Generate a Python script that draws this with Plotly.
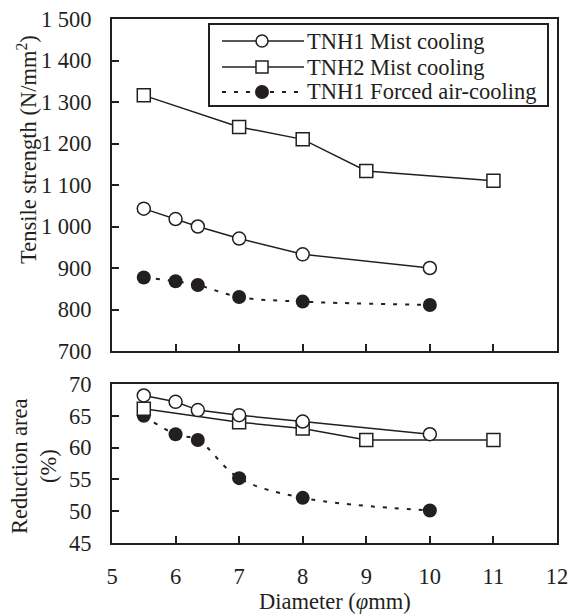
import plotly.graph_objects as go
from plotly.subplots import make_subplots

# ---- data ----
diam_tnh1 = [5.5, 6.0, 6.35, 7.0, 8.0, 10.0]
diam_tnh2 = [5.5, 7.0, 8.0, 9.0, 11.0]
ts_tnh1_mist = [1043, 1018, 1000, 971, 933, 900]
ts_tnh2_mist = [1316, 1240, 1210, 1134, 1110]
ts_tnh1_air = [877, 868, 859, 830, 819, 811]
ra_tnh1_mist = [68.2, 67.2, 65.9, 65.1, 64.1, 62.1]
ra_tnh2_mist = [66.1, 64.0, 63.0, 61.2, 61.2]
ra_tnh1_air = [65.0, 62.1, 61.2, 55.2, 52.1, 50.1]

series_names = ["TNH1 Mist cooling", "TNH2 Mist cooling", "TNH1 Forced air-cooling"]
ts_ticks = [700, 800, 900, 1000, 1100, 1200, 1300, 1400, 1500]
ts_ticktext = ["700", "800", "900", "1 000", "1 100", "1 200", "1 300", "1 400", "1 500"]
ra_ticks = [45, 50, 55, 60, 65, 70]
x_ticks = [5, 6, 7, 8, 9, 10, 11, 12]

INK = "#231f20"
FONT = "Liberation Serif, Times New Roman, serif"
FS = 22.5

# page offset (browser body margin)
OFF = 8
W, H = 579 - OFF, 614 - OFF
L_pg, R_pg, T_pg, B_pg = 112, 557, 19, 543
L, R, T, B = L_pg - OFF, R_pg - OFF, T_pg - OFF, B_pg - OFF
plot_h = B - T

def ypaper(py_page):
    return (B - (py_page - OFF)) / plot_h

def xpaper(px_page):
    return ((px_page - OFF) - L) / (R - L)

fig = make_subplots(rows=2, cols=1, shared_xaxes=False, vertical_spacing=0.0)

line_solid = dict(color=INK, width=1.5)
line_dot = dict(color=INK, width=2, dash="4px,8px", shape="spline", smoothing=1.0)
m_open_circle = dict(symbol="circle", size=13, color="white", line=dict(color=INK, width=1.5))
m_open_square = dict(symbol="square", size=13, color="white", line=dict(color=INK, width=1.5))
m_filled = dict(symbol="circle", size=14, color=INK, line=dict(color=INK, width=0))

for row, (a, b, c) in enumerate([(ts_tnh1_mist, ts_tnh2_mist, ts_tnh1_air),
                                  (ra_tnh1_mist, ra_tnh2_mist, ra_tnh1_air)], start=1):
    fig.add_trace(go.Scatter(x=diam_tnh1, y=c, mode="lines+markers", line=line_dot,
                             marker=m_filled, name=series_names[2], showlegend=False), row=row, col=1)
    fig.add_trace(go.Scatter(x=diam_tnh2, y=b, mode="lines+markers", line=line_solid,
                             marker=m_open_square, name=series_names[1], showlegend=False), row=row, col=1)
    fig.add_trace(go.Scatter(x=diam_tnh1, y=a, mode="lines+markers", line=line_solid,
                             marker=m_open_circle, name=series_names[0], showlegend=False), row=row, col=1)

axis_common = dict(showline=True, linecolor=INK, linewidth=2, mirror=True,
                   ticks="inside", ticklen=7, tickwidth=1.5, tickcolor=INK,
                   showgrid=False, zeroline=False, automargin=False,
                   ticklabeloverflow="allow",
                   tickfont=dict(family=FONT, size=FS, color=INK))

fig.update_xaxes(range=[5, 12], tickvals=x_ticks, ticklabelstandoff=12, **axis_common)
fig.update_xaxes(showticklabels=False, row=1, col=1)
fig.update_yaxes(range=[700, 1500], tickvals=ts_ticks, ticktext=ts_ticktext, ticklabelstandoff=14,
                 row=1, col=1, **axis_common)
fig.update_yaxes(range=[45, 70], tickvals=ra_ticks, ticklabelstandoff=14,
                 row=2, col=1, **axis_common)

fig.layout.yaxis.domain = [ypaper(351), 1.0]
fig.layout.yaxis2.domain = [0.0, ypaper(384)]

title_font = dict(family=FONT, size=FS, color=INK)
# axis titles as annotations
fig.add_annotation(text="Tensile strength (N/mm<sup>2</sup>)", xref="paper", yref="paper",
                   x=xpaper(27), y=ypaper(150), textangle=-90, showarrow=False,
                   xanchor="center", yanchor="middle", font=title_font)
fig.add_annotation(text="Reduction area<br>(%)", xref="paper", yref="paper",
                   x=xpaper(34), y=ypaper(466), textangle=-90, showarrow=False,
                   xanchor="center", yanchor="middle", font=title_font)
fig.add_annotation(text="Diameter (<i>φ</i>mm)", xref="paper", yref="paper",
                   x=xpaper(335), y=ypaper(601), showarrow=False,
                   xanchor="center", yanchor="middle", font=title_font)

# ---- custom legend ----
fig.add_shape(type="rect", xref="paper", yref="paper",
              x0=xpaper(209), x1=xpaper(548), y0=ypaper(106), y1=ypaper(24),
              line=dict(color=INK, width=2), fillcolor="white", layer="above")
rows_py = [41, 67, 92]
kinds = ["circle", "square", "filled"]
for name, py, kind in zip(series_names, rows_py, kinds):
    yp = ypaper(py)
    if kind == "filled":
        fig.add_shape(type="line", xref="paper", yref="paper", x0=xpaper(222), x1=xpaper(304),
                      y0=yp, y1=yp, line=dict(color=INK, width=2, dash="4px,8px"), layer="above")
    else:
        fig.add_shape(type="line", xref="paper", yref="paper", x0=xpaper(222), x1=xpaper(304),
                      y0=yp, y1=yp, line=dict(color=INK, width=1.5), layer="above")
    xc = xpaper(262)
    if kind == "circle":
        fig.add_shape(type="circle", xref="paper", yref="paper", xsizemode="pixel", ysizemode="pixel",
                      xanchor=xc, yanchor=yp, x0=-6, x1=6, y0=-6, y1=6,
                      line=dict(color=INK, width=1.5), fillcolor="white", layer="above")
    elif kind == "square":
        fig.add_shape(type="rect", xref="paper", yref="paper", xsizemode="pixel", ysizemode="pixel",
                      xanchor=xc, yanchor=yp, x0=-6, x1=6, y0=-6, y1=6,
                      line=dict(color=INK, width=1.5), fillcolor="white", layer="above")
    else:
        fig.add_shape(type="circle", xref="paper", yref="paper", xsizemode="pixel", ysizemode="pixel",
                      xanchor=xc, yanchor=yp, x0=-7, x1=7, y0=-7, y1=7,
                      line=dict(color=INK, width=0), fillcolor=INK, layer="above")
    fig.add_annotation(text=name, xref="paper", yref="paper", x=xpaper(305), y=yp,
                       xanchor="left", yanchor="middle", showarrow=False,
                       font=dict(family=FONT, size=FS, color=INK))

fig.update_layout(width=W, height=H, margin=dict(l=L, r=W - R, t=T, b=H - B),
                  paper_bgcolor="white", plot_bgcolor="white", showlegend=False,
                  font=dict(family=FONT, size=FS, color=INK))

fig.write_html("out.html")
